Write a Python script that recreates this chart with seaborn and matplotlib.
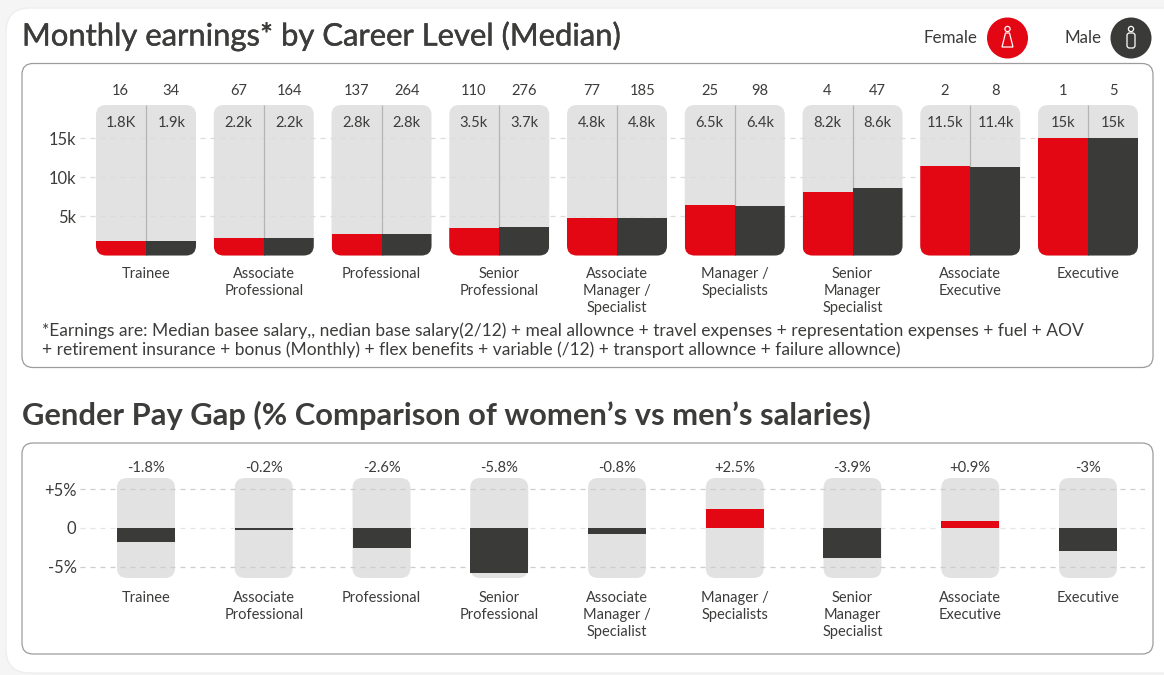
import matplotlib
matplotlib.use("Agg")
import matplotlib.pyplot as plt
import matplotlib.patheffects as pe
import pandas as pd
import seaborn as sns
from matplotlib.patches import FancyBboxPatch, Circle, Polygon

careers = ["Trainee", "Associate\nProfessional", "Professional", "Senior\nProfessional",
           "Associate\nManager /\nSpecialist", "Manager /\nSpecialists", "Senior\nManager\nSpecialist",
           "Associate\nExecutive", "Executive"]
female_k = [1.8, 2.2, 2.8, 3.5, 4.8, 6.5, 8.2, 11.5, 15]
male_k = [1.9, 2.2, 2.8, 3.7, 4.8, 6.4, 8.6, 11.4, 15]
female_labels = ["1.8K", "2.2k", "2.8k", "3.5k", "4.8k", "6.5k", "8.2k", "11.5k", "15k"]
male_labels = ["1.9k", "2.2k", "2.8k", "3.7k", "4.8k", "6.4k", "8.6k", "11.4k", "15k"]
female_counts = [16, 67, 137, 110, 77, 25, 4, 2, 1]
male_counts = [34, 164, 264, 276, 185, 98, 47, 8, 5]
gap_pct = [-1.8, -0.2, -2.6, -5.8, -0.8, 2.5, -3.9, 0.9, -3]
gap_labels = ["-1.8%", "-0.2%", "-2.6%", "-5.8%", "-0.8%", "+2.5%", "-3.9%", "+0.9%", "-3%"]

RED, DARK, PANEL, TXT = "#e30613", "#3a3a39", "#e2e2e2", "#3c3c3b"
W, H = 1164, 675
FONT = "Lato"
sns.set_style("white")
plt.rcParams["font.family"] = [FONT, "DejaVu Sans"]
pt = lambda px: px * 0.72

fig = plt.figure(figsize=(W / 100, H / 100), dpi=100, facecolor="#f5f5f5")

# page furniture in pixel coordinates
bg = fig.add_axes([0, 0, 1, 1], zorder=0)
bg.set_xlim(0, W); bg.set_ylim(H, 0); bg.axis("off")
bg.add_patch(FancyBboxPatch((6, 8), 1190, 665, boxstyle="round,pad=0,rounding_size=24",
                            fc="white", ec="#eeeeee", lw=1))
for (y0, y1) in [(63.5, 367.5), (443, 654)]:
    bg.add_patch(FancyBboxPatch((22, y0), 1131, y1 - y0, boxstyle="round,pad=0,rounding_size=11",
                                fc="white", ec="#9c9c9c", lw=0.9))
bg.text(22, 36, "Monthly earnings* by Career Level (Median)", fontsize=pt(31), color=TXT,
        va="center", ha="left", path_effects=[pe.withStroke(linewidth=0.3, foreground=TXT)])
bg.text(22, 415, "Gender Pay Gap (% Comparison of women\u2019s vs men\u2019s salaries)", fontsize=pt(30.9),
        color=TXT, va="center", ha="left", fontweight="bold")
bg.text(42, 330.5, "*Earnings are: Median basee salary,, nedian base salary(2/12) + meal allownce + travel expenses + representation expenses + fuel + AOV",
        fontsize=pt(17.4), color=TXT, va="center")
bg.text(42, 349.5, "+ retirement insurance + bonus (Monthly) + flex benefits + variable (/12) + transport allownce + failure allownce)",
        fontsize=pt(17.4), color=TXT, va="center")

# legend badges
bg.text(977, 38, "Female", fontsize=pt(17), color=TXT, ha="right", va="center")
bg.text(1102, 38, "Male", fontsize=pt(17), color=TXT, ha="right", va="center")
bg.add_patch(Circle((1007.5, 38), 20.5, fc=RED, ec="none"))
bg.add_patch(Circle((1131, 38), 20.5, fc=DARK, ec="none"))
bg.add_patch(Circle((1007.5, 29), 2.6, fc="none", ec="white", lw=0.9))
bg.add_patch(Polygon([(1005.5, 33), (1009.5, 33), (1013, 47), (1002, 47)], closed=True, fc="none", ec="white", lw=0.9))
bg.add_patch(Circle((1131, 29), 2.6, fc="none", ec="white", lw=0.9))
bg.add_patch(FancyBboxPatch((1127, 33), 8, 15, boxstyle="round,pad=0,rounding_size=2.5", fc="none", ec="white", lw=0.9))


def make_axes(x0, x1, ytop, ybot):
    return fig.add_axes([x0 / W, 1 - ybot / H, (x1 - x0) / W, (ybot - ytop) / H], zorder=1, facecolor="none")


def style_axes(ax, ticks, ticklabels, xmin, xmax, ylo, yhi, bar_px_unit=117.75):
    ax.set_xlim((xmin - 146) / bar_px_unit, (xmax - 146) / bar_px_unit)
    ax.set_ylim(ylo, yhi)
    ax.set_yticks(ticks, ticklabels)
    ax.set_xlabel(""); ax.set_ylabel("")
    sns.despine(ax=ax, left=True, bottom=True)
    ax.set_axisbelow("line")
    ax.grid(axis="y", color="#dcdcdc", lw=0.9, ls=(0, (4, 4)))
    ax.grid(axis="x", visible=False)
    ax.tick_params(axis="y", length=0, pad=2.5, labelsize=pt(16.5), labelcolor=TXT)
    ax.tick_params(axis="x", length=0, labelsize=pt(14.6), labelcolor=TXT)
    for lab in ax.get_xticklabels():
        lab.set_linespacing(1.28)
        lab.set_va("top")


def add_panels(ax, half_px, lo, hi, radius_px, px_per_unit_y):
    aspect = 117.75 / px_per_unit_y
    half = half_px / 117.75
    r = radius_px / 117.75
    panels = []
    for i in range(len(careers)):
        p = FancyBboxPatch((i - half, lo), 2 * half, hi - lo,
                           boxstyle=f"round,pad=0,rounding_size={r}", mutation_aspect=aspect,
                           fc=PANEL, ec="none", zorder=1, clip_on=False)
        ax.add_patch(p)
        panels.append(p)
    return panels


# ---- earnings
PX_K = 7.8
ax1 = make_axes(80, 1138, 105, 255.5)
long = pd.DataFrame({"Career": careers * 2, "Earnings": female_k + male_k,
                     "Gender": ["Female"] * 9 + ["Male"] * 9})
sns.barplot(data=long, x="Career", y="Earnings", hue="Gender", order=careers,
            palette={"Female": RED, "Male": DARK}, width=100 / 117.75, gap=0, dodge=True,
            saturation=1, legend=False, ax=ax1, zorder=3, linewidth=0)
bars1 = list(ax1.patches)
top_k = 150.5 / PX_K
style_axes(ax1, [5, 10, 15], ["5k", "10k", "15k"], 80, 1138, 0, top_k)
ax1.tick_params(axis="x", pad=8)
panels1 = add_panels(ax1, 50, 0, top_k, 10, PX_K)
for i, b in enumerate(bars1):
    b.set_clip_path(panels1[i % 9])
ax1.vlines(range(9), 0, top_k, color="#b4b4b4", lw=0.9, zorder=2)
off = 25.3 / 117.75
for i in range(9):
    for x, lab, cnt in [(i - off, female_labels[i], female_counts[i]), (i + off, male_labels[i], male_counts[i])]:
        ax1.annotate(lab, (x, top_k), xytext=(0, -13), textcoords="offset points",
                     ha="center", va="center", fontsize=pt(14.8), color=TXT, zorder=5)
        ax1.annotate(str(cnt), (x, top_k), xytext=(0, 10), textcoords="offset points",
                     ha="center", va="center", fontsize=pt(14.8), color=TXT, annotation_clip=False)

# ---- pay gap
PX_PCT = 7.75
ax2 = make_axes(80, 1145, 478, 578)
gap = pd.DataFrame({"Career": careers, "Gap": gap_pct,
                    "Sign": ["up" if v > 0 else "down" for v in gap_pct]})
sns.barplot(data=gap, x="Career", y="Gap", hue="Sign", order=careers,
            palette={"up": RED, "down": DARK}, width=58 / 117.75, dodge=False,
            saturation=1, legend=False, ax=ax2, zorder=3, linewidth=0)
lo2, hi2 = -50 / PX_PCT, 50 / PX_PCT
style_axes(ax2, [-5, 0, 5], ["-5%", "0", "+5%"], 80, 1145, lo2, hi2)
ax2.tick_params(axis="x", pad=9.5)
for line, c in zip(ax2.get_ygridlines(), ["#cccccc", "#e4e4e4", "#cccccc"]):
    line.set_color(c)
add_panels(ax2, 29, lo2, hi2, 10, PX_PCT)
for i in range(9):
    ax2.annotate(gap_labels[i], (i, hi2), xytext=(0, 7.5), textcoords="offset points",
                 ha="center", va="center", fontsize=pt(14.8), color=TXT, annotation_clip=False)

fig.savefig("out.png", dpi=100, facecolor=fig.get_facecolor())
